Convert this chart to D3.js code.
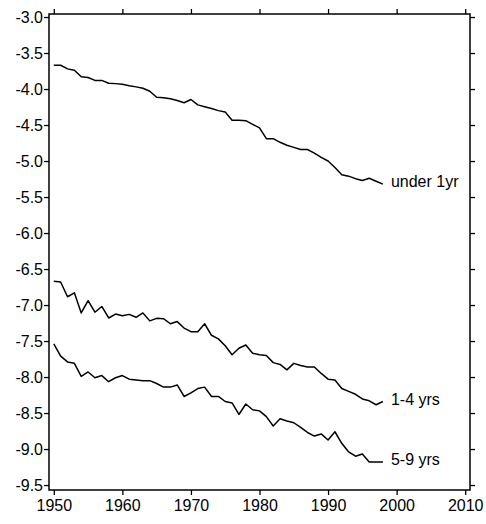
<!DOCTYPE html>
<html>
<head>
<meta charset="utf-8">
<script src="https://cdn.jsdelivr.net/npm/d3@7"></script>
<style>
  html, body { margin: 0; padding: 0; background: #fff; }
  svg { display: block; }
  text { font-family: "Liberation Sans", Arial, Helvetica, sans-serif; }
</style>
</head>
<body>
<svg id="chart" width="486" height="524"></svg>
<script>
// Log mortality rates by age group, 1950–1998
const years = d3.range(1950, 1999);

const under1 = [
  -3.67, -3.67, -3.72, -3.74, -3.83, -3.84, -3.88, -3.88, -3.92, -3.925,
  -3.935, -3.954, -3.97, -3.99, -4.03, -4.115, -4.12, -4.135, -4.16, -4.19,
  -4.145, -4.22, -4.245, -4.27, -4.30, -4.32, -4.435, -4.435, -4.44, -4.49,
  -4.54, -4.69, -4.69, -4.74, -4.78, -4.81, -4.84, -4.84, -4.89, -4.95,
  -5.00, -5.09, -5.19, -5.21, -5.245, -5.27, -5.24, -5.28, -5.32
];

const age1to4 = [
  -6.67, -6.68, -6.885, -6.83, -7.11, -6.94, -7.10, -7.02, -7.18, -7.125,
  -7.15, -7.13, -7.17, -7.11, -7.22, -7.185, -7.19, -7.26, -7.23, -7.32,
  -7.37, -7.37, -7.26, -7.42, -7.47, -7.565, -7.69, -7.60, -7.555, -7.67,
  -7.69, -7.70, -7.80, -7.825, -7.90, -7.81, -7.84, -7.86, -7.86, -7.95,
  -8.03, -8.04, -8.16, -8.20, -8.24, -8.305, -8.33, -8.385, -8.34
];

const age5to9 = [
  -7.54, -7.71, -7.79, -7.81, -7.99, -7.93, -8.01, -7.98, -8.065, -8.01,
  -7.98, -8.03, -8.04, -8.05, -8.05, -8.09, -8.14, -8.14, -8.11, -8.27,
  -8.22, -8.16, -8.14, -8.27, -8.27, -8.34, -8.36, -8.52, -8.375, -8.455,
  -8.47, -8.55, -8.68, -8.58, -8.61, -8.635, -8.70, -8.77, -8.82, -8.79,
  -8.875, -8.76, -8.92, -9.04, -9.10, -9.07, -9.18, -9.18, -9.18
];

const seriesLabels = ["under 1yr", "1-4 yrs", "5-9 yrs"];
const xTicks = [1950, 1960, 1970, 1980, 1990, 2000, 2010];
const yTicks = [-3.0, -3.5, -4.0, -4.5, -5.0, -5.5, -6.0, -6.5, -7.0, -7.5, -8.0, -8.5, -9.0, -9.5];

const svg = d3.select("#chart");
const plotLeft = 49, plotRight = 470, plotTop = 14, plotBottom = 490;

const x = d3.scaleLinear().domain([1949.3, 2010.7]).range([plotLeft, plotRight]);
const y = d3.scaleLinear().domain([-2.958, -9.569]).range([plotTop, plotBottom]);

const fmt = d => d.toFixed(1);
const fontSize = 16;

function styleAxis(g) {
  g.select(".domain").remove();
  g.selectAll(".tick line").attr("stroke", "#000").attr("stroke-width", 1.3);
  g.selectAll(".tick text")
    .attr("fill", "#000")
    .style("font-size", fontSize + "px")
    .style("font-family", '"Liberation Sans", Arial, Helvetica, sans-serif');
}

// bottom axis with year labels
svg.append("g")
  .attr("transform", `translate(0,${plotBottom})`)
  .call(d3.axisBottom(x).tickValues(xTicks).tickFormat(d3.format("d")).tickSize(5).tickPadding(5))
  .call(styleAxis);

// top axis: ticks only
svg.append("g")
  .attr("transform", `translate(0,${plotTop})`)
  .call(d3.axisTop(x).tickValues(xTicks).tickFormat("").tickSize(5))
  .call(styleAxis);

// left axis with value labels
svg.append("g")
  .attr("transform", `translate(${plotLeft},0)`)
  .call(d3.axisLeft(y).tickValues(yTicks).tickFormat(fmt).tickSize(5).tickPadding(1))
  .call(styleAxis);

// right axis: ticks only
svg.append("g")
  .attr("transform", `translate(${plotRight},0)`)
  .call(d3.axisRight(y).tickValues(yTicks).tickFormat("").tickSize(5))
  .call(styleAxis);

// plot frame
svg.append("rect")
  .attr("x", plotLeft).attr("y", plotTop)
  .attr("width", plotRight - plotLeft).attr("height", plotBottom - plotTop)
  .attr("fill", "none")
  .attr("stroke", "#000")
  .attr("stroke-width", 1.5);

const line = d3.line()
  .x((d, i) => x(years[i]))
  .y(d => y(d));

const allSeries = [under1, age1to4, age5to9];

svg.append("g")
  .selectAll("path")
  .data(allSeries)
  .join("path")
  .attr("d", line)
  .attr("fill", "none")
  .attr("stroke", "#000")
  .attr("stroke-width", 1.5)
  .attr("stroke-linejoin", "round");

// series names at the end of each line
svg.append("g")
  .selectAll("text")
  .data(allSeries)
  .join("text")
  .attr("x", x(years[years.length - 1]) + 8)
  .attr("y", d => y(d[d.length - 1]) - 2)
  .attr("dy", "0.32em")
  .attr("fill", "#000")
  .style("font-size", fontSize + "px")
  .text((d, i) => seriesLabels[i]);
</script>
</body>
</html>
